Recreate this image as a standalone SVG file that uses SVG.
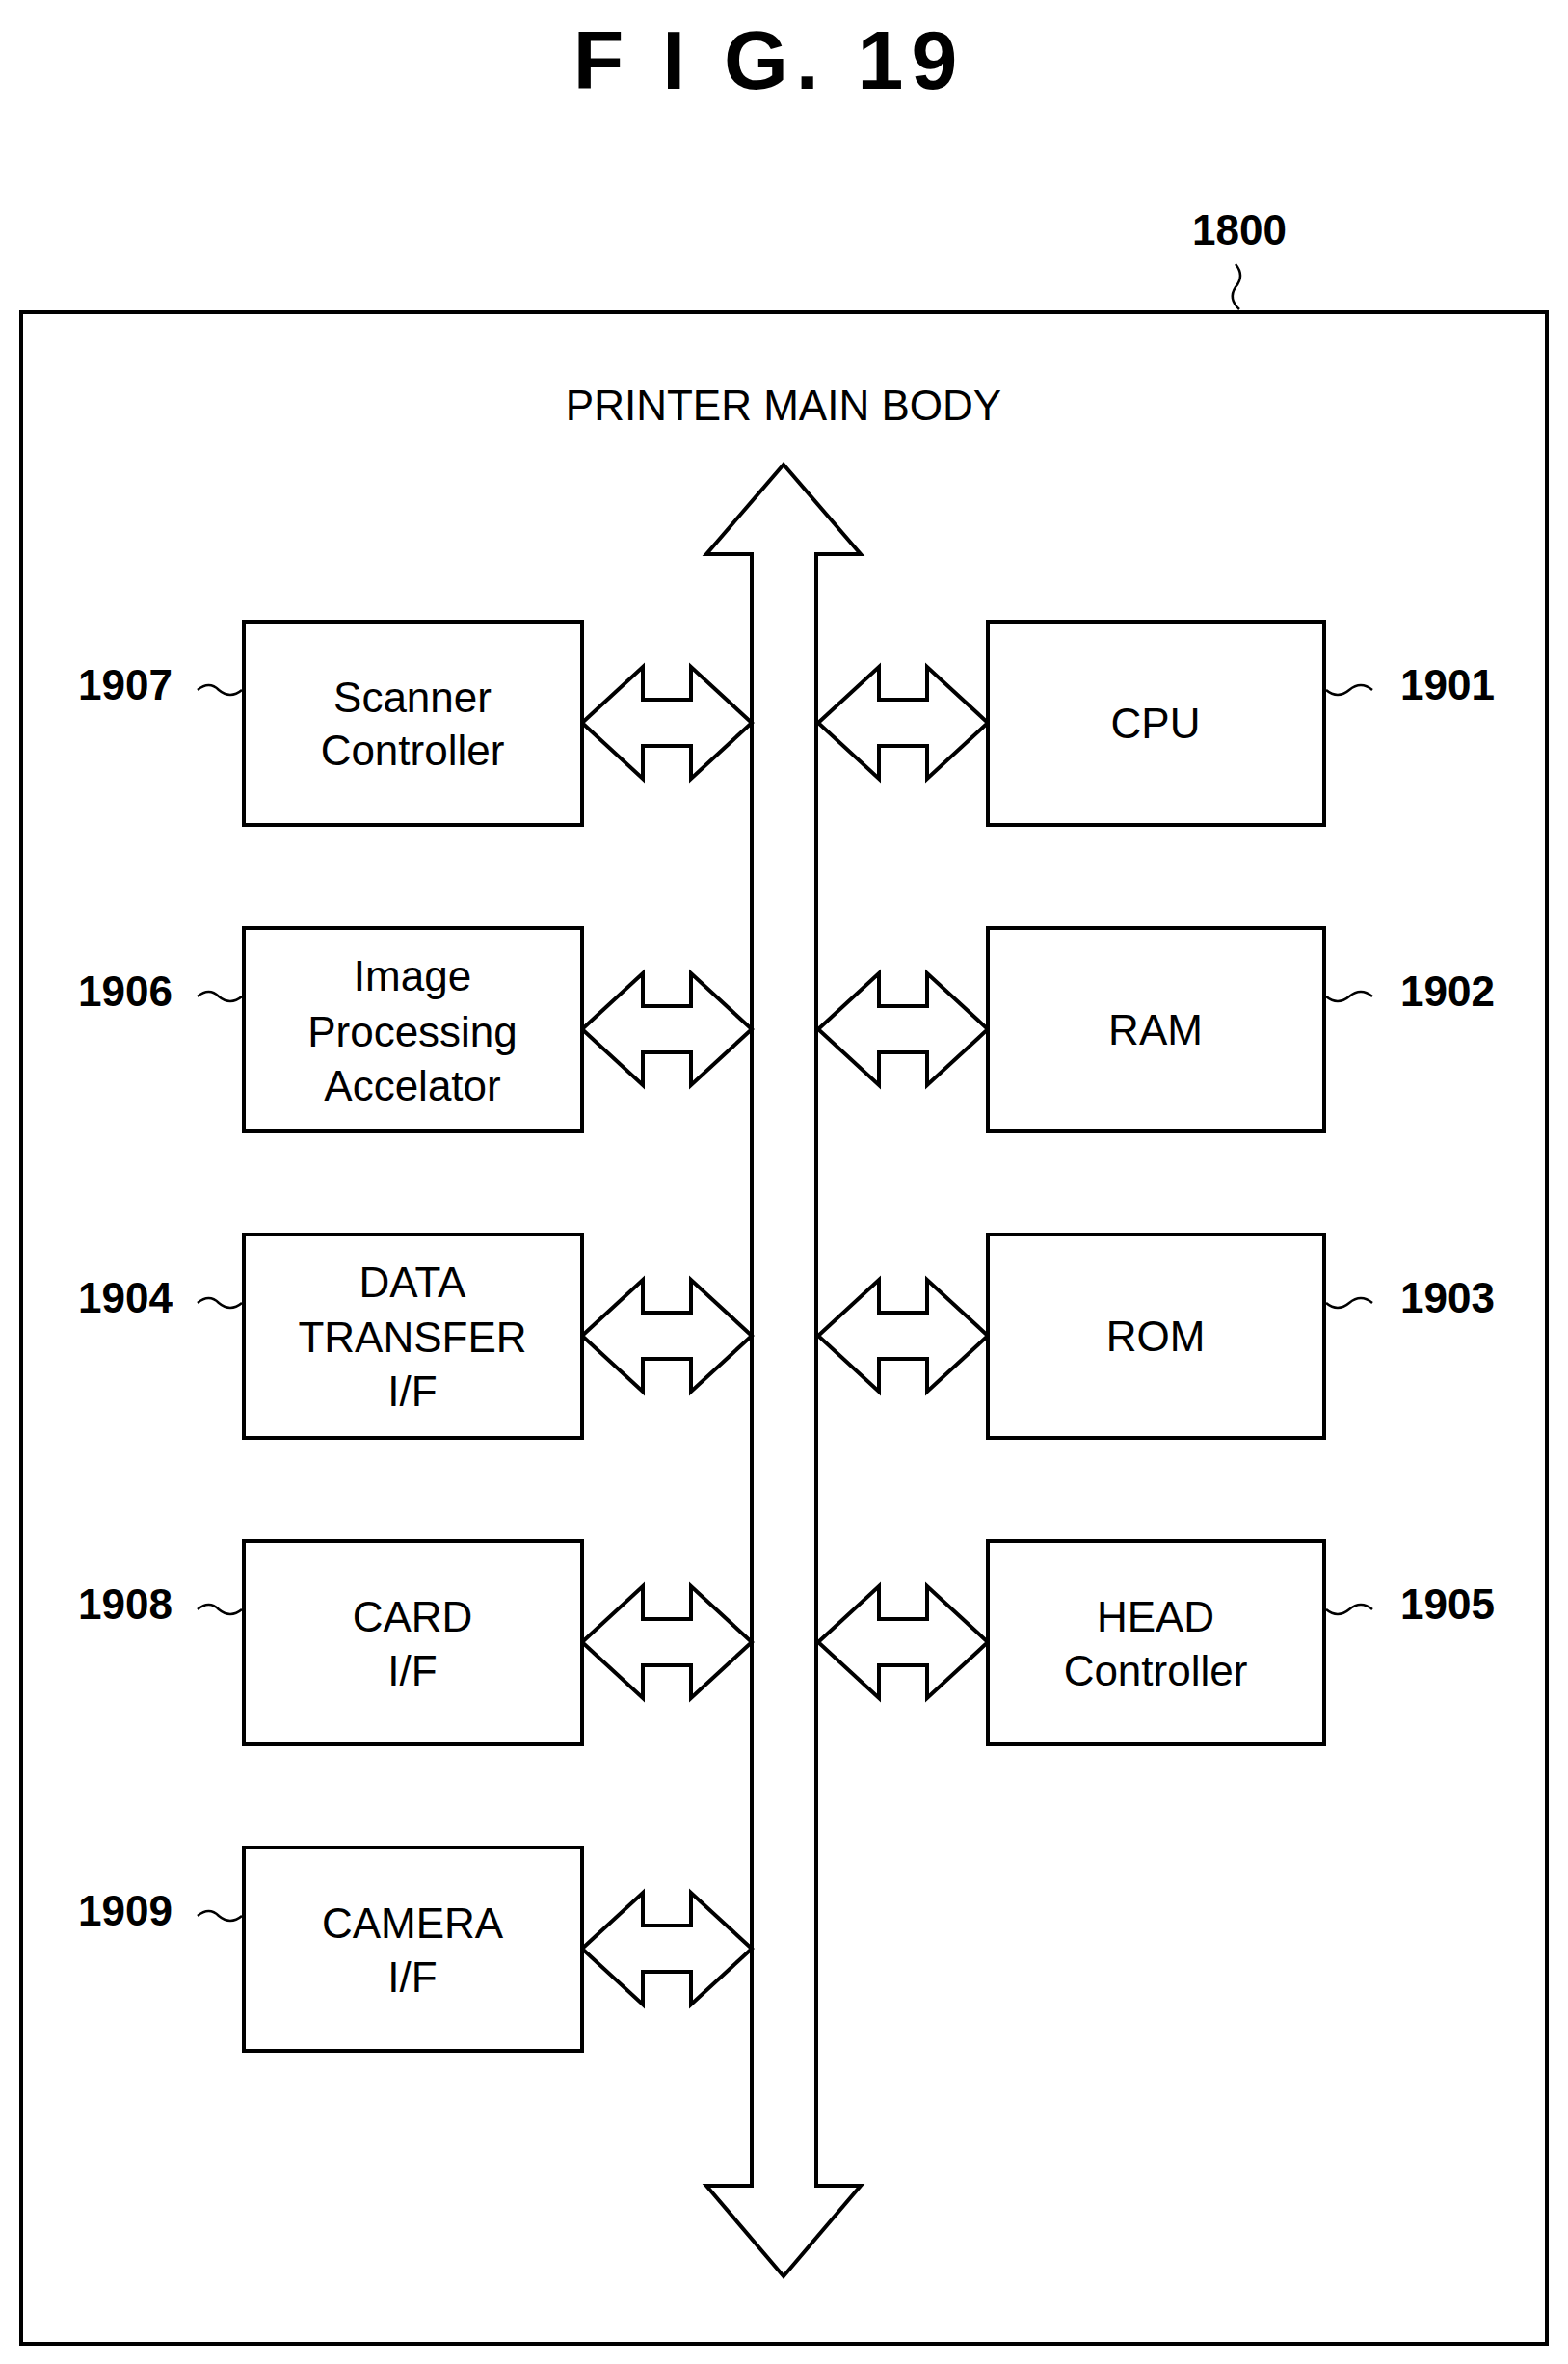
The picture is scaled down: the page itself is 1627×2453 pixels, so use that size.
<svg xmlns="http://www.w3.org/2000/svg" width="1627" height="2453" viewBox="0 0 1627 2453">
<style>
.b{fill:#fff;stroke:#000;stroke-width:4}
.t{font-family:"Liberation Sans Narrow","Liberation Sans",sans-serif;font-size:44px;text-anchor:middle;dominant-baseline:central}
.n{font-family:"Liberation Sans",sans-serif;font-weight:bold;font-size:44px;text-anchor:middle;dominant-baseline:central}
.s{fill:none;stroke:#000;stroke-width:2.5}
</style>
<defs>
<path id="da" class="b" d="M0,0 L63,-58 L63,-24 L113,-24 L113,-58 L176,0 L113,58 L113,24 L63,24 L63,58 Z"/>
</defs>
<text x="798" y="62" style="font-family:'Liberation Sans',sans-serif;font-weight:bold;font-size:86px;text-anchor:middle;dominant-baseline:central;letter-spacing:8px">F I G.  19</text>
<g id="n1800">
<rect x="22" y="324" width="1583" height="2108" class="b"/>
<text x="1286" y="238" class="n">1800</text>
<path class="s" d="M1282,274 q10,12 0,24 q-8,12 4,23"/>
<text x="813" y="420" class="t">PRINTER MAIN BODY</text>
</g>
<g id="connectors">
<path class="b" d="M813,482 L893,575 L847,575 L847,2268 L893,2268 L813,2362 L733,2268 L780,2268 L780,575 L733,575 Z"/>
<use href="#da" x="604" y="750"/><use href="#da" x="849" y="750"/>
<use href="#da" x="604" y="1068"/><use href="#da" x="849" y="1068"/>
<use href="#da" x="604" y="1386"/><use href="#da" x="849" y="1386"/>
<use href="#da" x="604" y="1704"/><use href="#da" x="849" y="1704"/>
<use href="#da" x="604" y="2022"/>
</g>
<g id="n1907"><rect x="253" y="645" width="351" height="211" class="b"/><text x="428" y="723" class="t">Scanner</text><text x="428" y="778" class="t">Controller</text><text x="130" y="710" class="n">1907</text><path class="s" d="M205,716 q12,-10 22,0 q12,10 24,0"/></g>
<g id="n1906"><rect x="253" y="963" width="351" height="211" class="b"/><text x="428" y="1012" class="t">Image</text><text x="428" y="1070" class="t">Processing</text><text x="428" y="1126" class="t">Accelator</text><text x="130" y="1028" class="n">1906</text><path class="s" d="M205,1034 q12,-10 22,0 q12,10 24,0"/></g>
<g id="n1904"><rect x="253" y="1281" width="351" height="211" class="b"/><text x="428" y="1330" class="t">DATA</text><text x="428" y="1387" class="t">TRANSFER</text><text x="428" y="1443" class="t">I/F</text><text x="130" y="1346" class="n">1904</text><path class="s" d="M205,1352 q12,-10 22,0 q12,10 24,0"/></g>
<g id="n1908"><rect x="253" y="1599" width="351" height="211" class="b"/><text x="428" y="1677" class="t">CARD</text><text x="428" y="1733" class="t">I/F</text><text x="130" y="1664" class="n">1908</text><path class="s" d="M205,1670 q12,-10 22,0 q12,10 24,0"/></g>
<g id="n1909"><rect x="253" y="1917" width="351" height="211" class="b"/><text x="428" y="1995" class="t">CAMERA</text><text x="428" y="2051" class="t">I/F</text><text x="130" y="1982" class="n">1909</text><path class="s" d="M205,1988 q12,-10 22,0 q12,10 24,0"/></g>
<g id="n1901"><rect x="1025" y="645" width="349" height="211" class="b"/><text x="1199" y="750" class="t">CPU</text><text x="1502" y="710" class="n">1901</text><path class="s" d="M1376,716 q12,10 24,0 q12,-10 24,0"/></g>
<g id="n1902"><rect x="1025" y="963" width="349" height="211" class="b"/><text x="1199" y="1068" class="t">RAM</text><text x="1502" y="1028" class="n">1902</text><path class="s" d="M1376,1034 q12,10 24,0 q12,-10 24,0"/></g>
<g id="n1903"><rect x="1025" y="1281" width="349" height="211" class="b"/><text x="1199" y="1386" class="t">ROM</text><text x="1502" y="1346" class="n">1903</text><path class="s" d="M1376,1352 q12,10 24,0 q12,-10 24,0"/></g>
<g id="n1905"><rect x="1025" y="1599" width="349" height="211" class="b"/><text x="1199" y="1677" class="t">HEAD</text><text x="1199" y="1733" class="t">Controller</text><text x="1502" y="1664" class="n">1905</text><path class="s" d="M1376,1670 q12,10 24,0 q12,-10 24,0"/></g>
</svg>
